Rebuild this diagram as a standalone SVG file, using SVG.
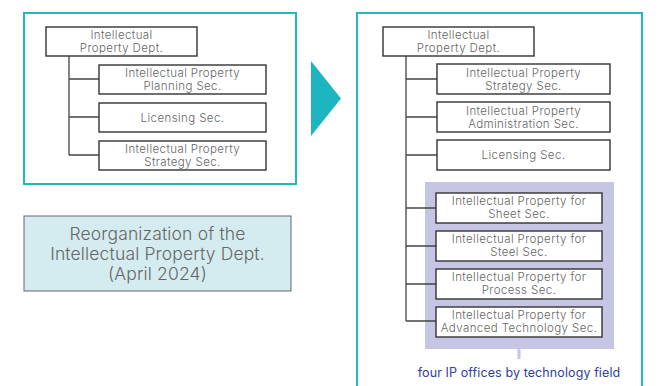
<svg xmlns="http://www.w3.org/2000/svg" width="659" height="386" viewBox="0 0 659 386">
<style>
.panel{fill:#fff;stroke:#22b8c2;stroke-width:2}
.box{fill:#fff;stroke:#333;stroke-width:1.4}
.t{font-family:Inter,"Noto Sans","DejaVu Sans",sans-serif;font-weight:300;font-size:11.5px;fill:#666;text-anchor:middle;letter-spacing:0.4px}
.big{font-size:17.5px;letter-spacing:0.15px}
.conn{stroke:#444;stroke-width:1.3;fill:none}
.note{font-family:Inter,"Noto Sans","DejaVu Sans",sans-serif;font-size:12.5px;fill:#2f3f9c;text-anchor:middle;letter-spacing:0.1px}
</style>
<rect width="659" height="386" fill="#fff"/>
<rect class="panel" x="24" y="13" width="272" height="171"/>
<rect class="panel" x="357" y="13" width="285" height="380"/>
<polygon points="311,61 341,98.5 311,136" fill="#1db5bf"/>
<rect x="425" y="182" width="189" height="167" fill="#c6c6e4"/>
<rect x="517.5" y="349" width="3" height="10" fill="#c6c6e4"/>
<g id="connectors">
<path class="conn" d="M69,56 V155 M69,79 H99 M69,117 H99 M69,155 H99"/>
<path class="conn" d="M406,56 V321 M406,79 H437 M406,117 H437 M406,155 H437 M406,208 H436 M406,246 H436 M406,284 H436 M406,321 H436"/>
</g>
<g id="l-dept"><rect class="box" x="46" y="27" width="151" height="29"/><text class="t" x="121.5" y="38.5">Intellectual</text><text class="t" x="121.5" y="52">Property Dept.</text></g>
<g id="l-planning"><rect class="box" x="99" y="65" width="167" height="29"/><text class="t" x="182.5" y="76.5">Intellectual Property</text><text class="t" x="182.5" y="90">Planning Sec.</text></g>
<g id="l-licensing"><rect class="box" x="99" y="103" width="167" height="29"/><text class="t" x="182.5" y="122">Licensing Sec.</text></g>
<g id="l-strategy"><rect class="box" x="99" y="141" width="167" height="29"/><text class="t" x="182.5" y="152.5">Intellectual Property</text><text class="t" x="182.5" y="166">Strategy Sec.</text></g>
<g id="reorg"><rect x="24" y="216" width="267" height="75" fill="#d4ecef" stroke="#666" stroke-width="1"/><text class="t big" x="157.5" y="240">Reorganization of the</text><text class="t big" x="157.5" y="260">Intellectual Property Dept.</text><text class="t big" x="157.5" y="280">(April 2024)</text></g>
<g id="r-dept"><rect class="box" x="383" y="27" width="151" height="29"/><text class="t" x="458.5" y="38.5">Intellectual</text><text class="t" x="458.5" y="52">Property Dept.</text></g>
<g id="r-strategy"><rect class="box" x="437" y="64" width="173" height="30"/><text class="t" x="523.5" y="76.5">Intellectual Property</text><text class="t" x="523.5" y="90">Strategy Sec.</text></g>
<g id="r-admin"><rect class="box" x="437" y="102" width="173" height="30"/><text class="t" x="523.5" y="114.5">Intellectual Property</text><text class="t" x="523.5" y="128">Administration Sec.</text></g>
<g id="r-licensing"><rect class="box" x="437" y="140" width="173" height="30"/><text class="t" x="523.5" y="159">Licensing Sec.</text></g>
<g id="r-sheet"><rect class="box" x="436" y="193" width="166" height="30"/><text class="t" x="519" y="204.5">Intellectual Property for</text><text class="t" x="519" y="218">Sheet Sec.</text></g>
<g id="r-steel"><rect class="box" x="436" y="231" width="166" height="30"/><text class="t" x="519" y="242.5">Intellectual Property for</text><text class="t" x="519" y="256">Steel Sec.</text></g>
<g id="r-process"><rect class="box" x="436" y="269" width="166" height="30"/><text class="t" x="519" y="280.5">Intellectual Property for</text><text class="t" x="519" y="294">Process Sec.</text></g>
<g id="r-advanced"><rect class="box" x="436" y="307" width="166" height="30"/><text class="t" x="519" y="318.5">Intellectual Property for</text><text class="t" x="519" y="332">Advanced Technology Sec.</text></g>
<text class="note" x="519" y="377">four IP offices by technology field</text>
</svg>
